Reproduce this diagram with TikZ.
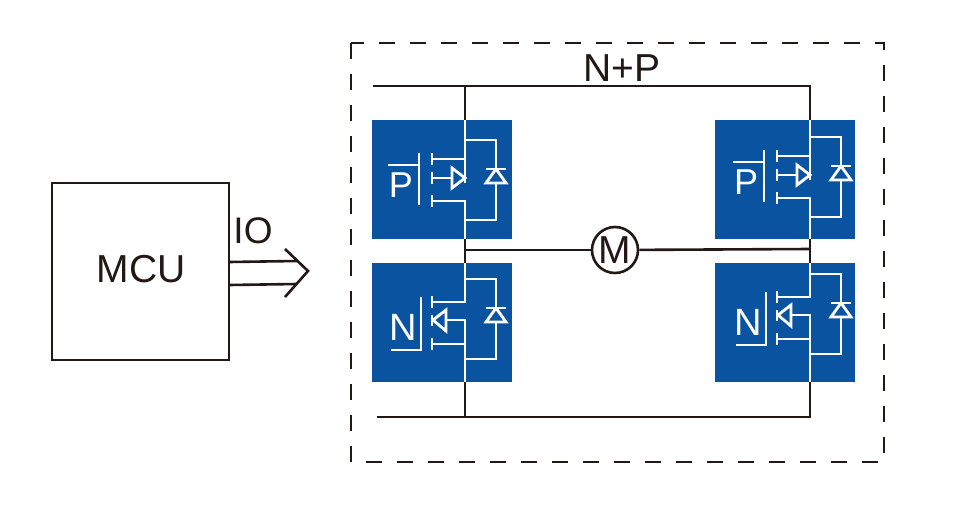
\documentclass[tikz,border=0pt]{standalone}
\usepackage{fontspec}
\setmainfont{Liberation Sans}
\definecolor{mosblue}{HTML}{0A53A0}
\definecolor{ink}{HTML}{231815}
\begin{document}
\begin{tikzpicture}[x=1pt,y=-1pt]
\tikzstyle{wire} = [ink, line width=2.6pt] % чёрные линии
\tikzstyle{mos} = [white, line width=2.8pt] % линии транзистора
\tikzstyle{mosbox} = [fill=mosblue, minimum width=140pt, minimum height=119pt, inner sep=0pt]
\tikzstyle{bigtext} = [text=ink, inner sep=0pt, font=\fontsize{39}{41}\selectfont]
\tikzset{
  bridgediode/.pic={ % диод и его отвод
    \draw[mos] (0,0)--(31,0)--(31,29);
    \draw[mos] (21,29)--(41,29);
    \draw[mos, line join=miter] (31,29)--(21,43)--(41,43)--cycle;
    \draw[mos] (31,43)--(31,80)--(0,80);
  },
  pmos/.pic={
    \coordinate (-top) at (0,0);
    \coordinate (-bot) at (0,80);
    \pic at (0,0) {bridgediode};
    \draw[mos] (0,0)--(0,43);
    \draw[mos] (-33,19)--(0,19);
    \draw[mos] (-33,13)--(-33,25);
    \draw[mos] (-33,38)--(-13,38);
    \draw[mos] (-33,32)--(-33,44);
    \draw[mos, line join=miter] (-13,28)--(0,38)--(-13,48)--cycle;
    \draw[mos] (-33,61)--(0,61)--(0,80);
    \draw[mos] (-33,55)--(-33,67);
    \draw[mos] (-46,13)--(-46,65);
    \draw[mos] (-77,25)--(-46,25);
    \node[text=white, inner sep=0pt, font=\fontsize{36}{38}\selectfont] (-label) at (-64,45) {P};
  },
  nmos/.pic={
    \coordinate (-top) at (0,0);
    \coordinate (-bot) at (0,80);
    \pic at (0,0) {bridgediode};
    \draw[mos] (0,0)--(0,23)--(-33,23);
    \draw[mos] (-33,17)--(-33,29);
    \draw[mos] (0,80)--(0,41)--(-19,41);
    \draw[mos, line join=miter] (-19,31)--(-32,41)--(-19,52)--cycle;
    \draw[mos] (-33,36)--(-33,47);
    \draw[mos] (-33,65)--(0,65);
    \draw[mos] (-33,59)--(-33,71);
    \draw[mos] (-44,18)--(-44,71)--(-74,71);
    \node[text=white, inner sep=0pt, font=\fontsize{38}{40}\selectfont] (-label) at (-62,48) {N};
  }
}
\useasboundingbox (0,0) rectangle (953,525);

% линии питания
\coordinate (railtl) at (373,86);
\coordinate (railtr) at (810,86);
\coordinate (railbl) at (377,417);
\coordinate (railbr) at (810,417);
\coordinate (railtm) at (465,86);
\coordinate (railbm) at (465,417);
\coordinate (midl) at (465,250);
\coordinate (midr) at (810,249);

\draw[ink, line width=2.4pt, dash pattern=on 16pt off 15pt] (351,43) rectangle (884,462);
\node[bigtext] (rail) at (622,68) {N+P};

\draw[wire] (railtl)--(railtr)--(railbr)--(railbl);
\draw[wire] (railtm)--(railbm);

\node[circle, draw=ink, line width=2.6pt, fill=white, minimum size=46pt, inner sep=0pt, bigtext] (motor) at (615,250) {M};
\draw[wire] (midl)--(motor);
\draw[wire] (motor)--(midr);

% транзисторы
\node[mosbox] (p1box) at (442,179.5) {};
\node[mosbox] (p2box) at (785,179.5) {};
\node[mosbox] (n1box) at (442,322.5) {};
\node[mosbox] (n2box) at (785,322.5) {};

\pic (p1) at (465,140) {pmos};
\pic (p2) at (810,137) {pmos};
\pic (n1) at (465,279) {nmos};
\pic (n2) at (810,274) {nmos};

\foreach \m in {p1,p2,n1,n2} {
  \draw[mos] (\m-top |- \m box.north)--(\m-top);
  \draw[mos] (\m-bot)--(\m-bot |- \m box.south);
}

% контроллер и стрелка
\node[draw=ink, line width=2.6pt, minimum size=177pt, inner sep=0pt] (mcu) at (140.5,271.5) {};
\node[bigtext] (mculabel) at (141,269) {MCU};
\node[bigtext, font=\fontsize{37}{39}\selectfont] (io) at (253,231) {IO};

\coordinate (ioa) at (229,262);
\coordinate (iob) at (229,285);
\coordinate (ioc) at (297,261);
\coordinate (iod) at (297,284);
\coordinate (tipa) at (285,249);
\coordinate (tip) at (308,271);
\coordinate (tipb) at (285,297);
\draw[wire] (ioa)--(ioc);
\draw[wire] (iob)--(iod);
\draw[wire] (tipa)--(tip)--(tipb);
\end{tikzpicture}
\end{document}
